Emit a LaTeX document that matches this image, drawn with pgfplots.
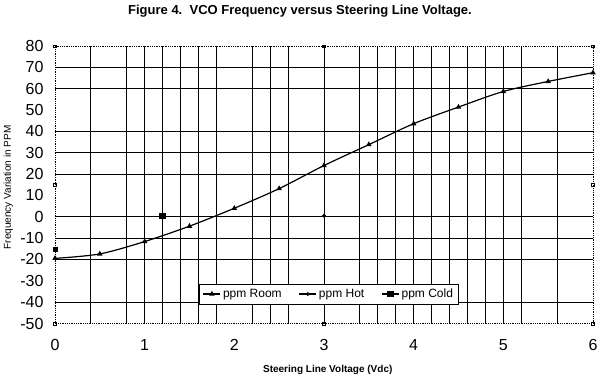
\documentclass[border=0pt]{standalone}
\usepackage{pgfplots}
\pgfplotsset{compat=1.18}
\usepackage{fontspec}
\setmainfont{Liberation Sans}
\begin{document}
\begin{tikzpicture}[x=1pt,y=1pt]
\useasboundingbox (0,0) rectangle (600,380);
\begin{axis}[
  at={(55pt,56.5pt)}, anchor=south west,
  scale only axis, width=538pt, height=277.5pt,
  xmin=0, xmax=6, ymin=-50, ymax=80,
  clip=false,
  xtick={0,1,...,6},
  ytick={-50,-40,...,80},
  minor xtick={0.4,0.8,1.0,1.2,1.4,1.6,1.8,2.2,2.4,2.6,3.0,3.4,3.6,3.8,4.0,4.2,4.4,4.6,4.8,5.0,5.2,5.6},
  minor ytick={70,60,40,30,20,0,-10,-20,-40},
  xminorgrids=true, yminorgrids=true,
  xmajorgrids=false, ymajorgrids=false,
  minor grid style={black, solid, line width=0.8pt},
  major tick length=0pt, minor tick length=0pt,
  axis line style={black, densely dotted, line width=0.8pt},
  /pgf/number format/assume math mode=true,
  tick label style={font=\fontsize{16}{17}\selectfont},
  xticklabel style={yshift=-12pt},
  yticklabel style={xshift=-8pt},
  title={\textbf{Figure 4.\ \ VCO Frequency versus Steering Line Voltage.}},
  title style={at={(rel axis cs:0.4554,1.124)}, anchor=center, yshift=-6pt, font=\fontsize{13}{14}\selectfont},
  xlabel={\textbf{Steering Line Voltage (Vdc)}},
  xlabel style={at={(rel axis cs:0.507,-0.167)}, anchor=center, font=\fontsize{10}{11}\selectfont},
  ylabel={Frequency Variation in PPM},
  ylabel style={at={(rel axis cs:-0.087,0.49)}, anchor=center, font=\fontsize{10}{11}\selectfont},
  legend style={at={(rel axis cs:0.509,0.106)}, anchor=center, legend columns=3,
    draw=black, fill=white, font=\fontsize{12}{13}\selectfont, line width=0.6pt,
    inner sep=3pt,
    /tikz/column 2/.style={column sep=15pt},
    /tikz/column 4/.style={column sep=15pt}},
]
\addplot[black, line width=1.2pt, smooth, mark=triangle*, mark size=2pt, mark options={solid}]
  coordinates {(0,-19.5) (0.5,-17.4) (1,-11.6) (1.5,-4.4) (2,4) (2.5,13.2) (3,24) (3.5,33.8) (4,43.6) (4.5,51.4) (5,58.7) (5.5,63.4) (6,67.5)};
\addlegendentry{ppm Room}
\addplot[black, line width=1.2pt, mark=*, mark size=1.2pt]
  coordinates {(3,0.5)};
\addlegendentry{ppm Hot}
\addplot[black, line width=1.2pt, mark=square*, mark size=2.6pt]
  coordinates {(1.2,0.3)};
\addlegendentry{ppm Cold}
\addplot[forget plot, black, mark=square*, mark size=2.2pt]
  coordinates {(0,-15.3)};
\addplot[forget plot, black, only marks, mark=square, mark size=1.3pt, line width=0.4pt, mark options={fill=white}]
  coordinates {(0,80) (3,80) (6,80) (6,15) (6,-50) (3,-50) (0,-50) (0,15)};
\end{axis}
\end{tikzpicture}
\end{document}
